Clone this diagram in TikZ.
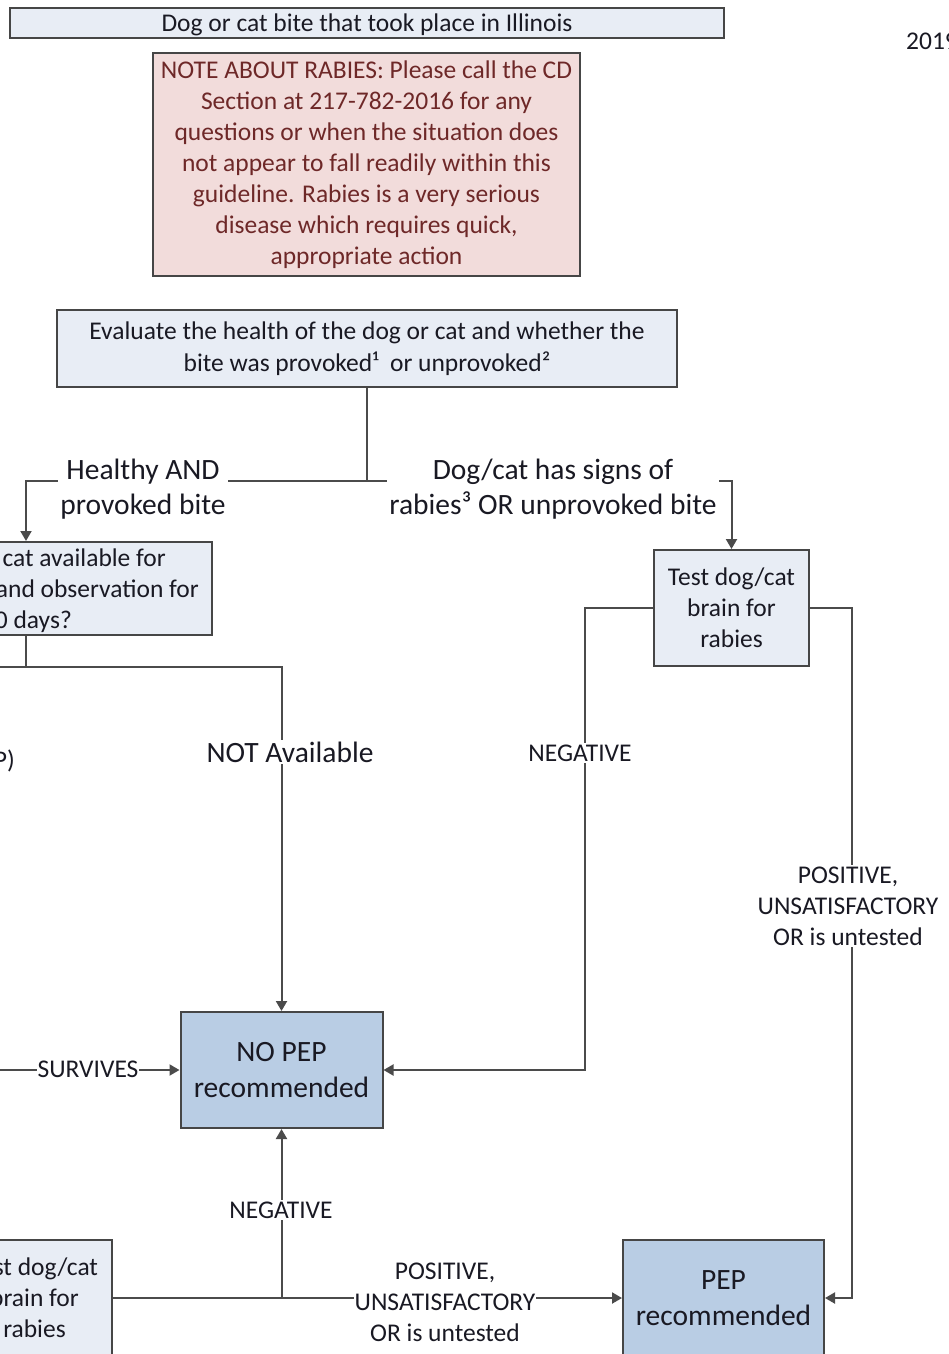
\documentclass[tikz,border=0pt]{standalone}
\usepackage{fontspec}
\setmainfont{Carlito}
\usetikzlibrary{arrows.meta}
\definecolor{boxlight}{RGB}{232,237,245}
\definecolor{boxdark}{RGB}{185,205,228}
\definecolor{notefill}{RGB}{242,220,219}
\definecolor{notetext}{RGB}{110,40,40}
\definecolor{edgecol}{RGB}{70,70,70}
\definecolor{wirecol}{RGB}{75,75,75}
\definecolor{ink}{RGB}{25,25,35}
\begin{document}
\begin{tikzpicture}[x=1pt,y=-1pt,
  font=\fontsize{25.5}{31}\selectfont, text=ink,
  box/.style={draw=edgecol, line width=2pt, fill=boxlight, inner sep=0pt, align=center},
  darkbox/.style={box, fill=boxdark, font=\fontsize{29.5}{36}\selectfont},
  lbl/.style={fill=white, inner sep=2pt, align=center},
  biglbl/.style={lbl, font=\fontsize{29.5}{35}\selectfont},
  partline/.style={anchor=east, inner sep=0pt, text height=18pt, text depth=6pt},
  wire/.style={draw=wirecol, line width=2pt},
  arr/.style={wire, -{Triangle[width=11pt,length=10pt]}},
]
\useasboundingbox (0,0) rectangle (949,1354);
\clip (0,0) rectangle (949,1354);

% boxes
\node[box, minimum width=714pt, minimum height=30pt, text height=22.5pt, text depth=5pt] (title) at (367,23) {Dog or cat bite that took place in Illinois};
\node[box, fill=notefill, text=notetext, minimum width=427pt, minimum height=223pt] (note) at (366.5,164.5)
  {NOTE ABOUT RABIES: Please call the CD\\Section at 217-782-2016 for any\\questions or when the situation does\\not appear to fall readily within this\\guideline. Rabies is a very serious\\disease which requires quick,\\appropriate action};
\node[box, minimum width=620pt, minimum height=77pt, font=\fontsize{25.5}{32}\selectfont] (eval) at (367,348.5)
  {Evaluate the health of the dog or cat and whether the\\bite was provoked¹\ \ or unprovoked²};
\node[box, minimum width=372pt, minimum height=93pt] (avail) at (26,588.5) {};
\node[partline] (availa) at (166,560) {cat available for};
\node[partline] (availb) at (199,591) {and observation for};
\node[partline] (availc) at (72,622) {0 days?};
\node[box, minimum width=155pt, minimum height=116pt] (test1) at (731.5,608) {Test dog/cat\\brain for\\rabies};
\node[darkbox, minimum width=202pt, minimum height=116pt] (nopep) at (281.5,1070) {NO PEP\\recommended};
\node[darkbox, minimum width=201pt, minimum height=116pt] (pep) at (723.5,1298) {PEP\\recommended};
\node[box, minimum width=155pt, minimum height=116pt] (test2) at (34.5,1298) {Test dog/cat\\brain for\\rabies};

% connectors
\draw[wire] (eval.south) -- (367,481) coordinate (split);
\draw[arr] (split) -| (avail.north);
\draw[arr] (split) -| (test1.north);
\draw[wire] (avail.south) -- (26,667) coordinate (availjoin);
\coordinate (leftin) at (-30,667);
\draw[arr] (leftin) -| (nopep.north);
\draw[arr] (test1.west) -- (585,608) |- (nopep.east);
\draw[arr] (test1.east) -- (852,608) |- (pep.east);
\coordinate (survin) at (-10,1070);
\draw[arr] (survin) -- (nopep.west);
\draw[arr] (test2.east) -- (pep.west);
\coordinate (negjoin) at (nopep.south |- test2.east);
\draw[arr] (negjoin) -- (nopep.south);

% labels
\node[biglbl] (healthy) at (143,489) {Healthy AND\\provoked bite};
\node[biglbl, inner xsep=2.5pt] (signs) at (553,489) {Dog/cat has signs of\\rabies³ OR unprovoked bite};
\node[biglbl] (notavail) at (290,752) {NOT Available};
\node[lbl] (neg1) at (580,753) {NEGATIVE};
\node[lbl] (pos1) at (848,906) {POSITIVE,\\UNSATISFACTORY\\OR is untested};
\node[lbl, inner xsep=1pt] (surv) at (88,1069) {SURVIVES};
\node[lbl] (neg2) at (281,1210) {NEGATIVE};
\node[lbl, inner xsep=1pt] (pos2) at (445,1302) {POSITIVE,\\UNSATISFACTORY\\OR is untested};

% fragments at the edges
\node[anchor=west, inner sep=0pt] (year) at (906,41) {2019};
\node[anchor=east, inner sep=0pt] (pfrag) at (15,761) {P)};
\end{tikzpicture}
\end{document}
